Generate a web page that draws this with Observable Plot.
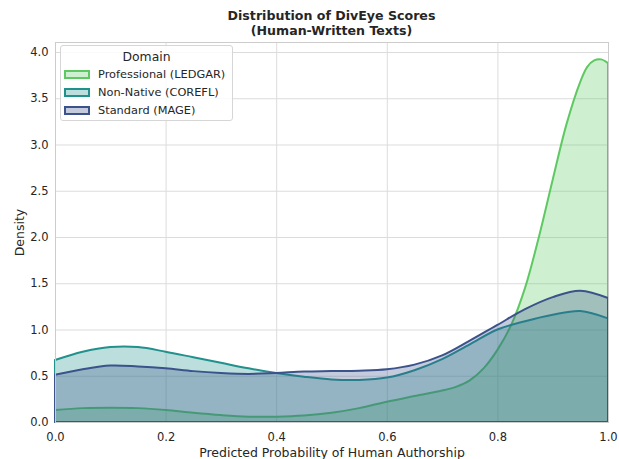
<!DOCTYPE html>
<html>
<head>
<meta charset="utf-8">
<script src="https://cdn.jsdelivr.net/npm/d3@7"></script>
<script src="https://cdn.jsdelivr.net/npm/@observablehq/plot@0.6"></script>
<style>
  body { margin: 0; background: #fff; font-family: "DejaVu Sans", sans-serif; }
  #wrap { position: relative; width: 619px; height: 459px; }
  #title { height: 40px; box-sizing: border-box; padding-top: 8px; text-align: center; font-weight: bold; font-size: 12.6px; line-height: 15px; color: #262626; padding-left: 44px; white-space: nowrap; }
  #legend { position: absolute; left: 60px; top: 45px; width: 173px; height: 76px; box-sizing: border-box; border: 1px solid #d6d6d6; border-radius: 3px; background: rgba(255,255,255,0.85); font-size: 11.35px; color: #262626; padding-left: 3px; }
  #legend .t { text-align: center; margin-top: 2px; height: 17px; line-height: 17px; font-size: 12.4px; padding-right: 3px; }
  #legend .row { display: flex; align-items: center; height: 18.2px; }
  #legend .sw { width: 22px; height: 5px; border: 2px solid; margin-right: 8px; }
  svg { display: block; }
</style>
</head>
<body>
<div id="wrap">
  <div id="title">Distribution of DivEye Scores<br>(Human-Written Texts)</div>
  <div id="chart"></div>
  <div id="legend"></div>
</div>
<script>
const domains = ["Professional (LEDGAR)", "Non-Native (COREFL)", "Standard (MAGE)"];
const colors = ["#5ec962", "#21918c", "#3b528b"];

const xProfessional = [0, 0.05, 0.1, 0.15, 0.2, 0.25, 0.3, 0.35, 0.4, 0.45, 0.5, 0.55, 0.6, 0.65, 0.7, 0.725, 0.75, 0.775, 0.8, 0.825, 0.85, 0.875, 0.9, 0.925, 0.95, 0.9625, 0.975, 0.9875, 1.0];
const yProfessional = [0.13, 0.15, 0.155, 0.15, 0.13, 0.10, 0.075, 0.058, 0.058, 0.07, 0.10, 0.15, 0.22, 0.28, 0.34, 0.38, 0.45, 0.58, 0.78, 1.05, 1.45, 2.0, 2.62, 3.22, 3.68, 3.84, 3.91, 3.92, 3.88];

const xNonNative = [0, 0.05, 0.1, 0.15, 0.2, 0.25, 0.3, 0.35, 0.4, 0.45, 0.5, 0.55, 0.6, 0.65, 0.7, 0.75, 0.8, 0.85, 0.9, 0.95, 1.0];
const yNonNative = [0.67, 0.76, 0.81, 0.81, 0.76, 0.70, 0.64, 0.58, 0.53, 0.49, 0.46, 0.455, 0.48, 0.56, 0.68, 0.84, 1.0, 1.09, 1.16, 1.2, 1.12];

const xStandard = [0, 0.05, 0.1, 0.15, 0.2, 0.25, 0.3, 0.35, 0.4, 0.45, 0.5, 0.55, 0.6, 0.65, 0.7, 0.75, 0.8, 0.85, 0.9, 0.95, 1.0];
const yStandard = [0.51, 0.57, 0.61, 0.60, 0.58, 0.55, 0.53, 0.52, 0.53, 0.545, 0.55, 0.555, 0.57, 0.62, 0.72, 0.88, 1.05, 1.22, 1.35, 1.42, 1.34];

const xTicks = [0, 0.2, 0.4, 0.6, 0.8, 1.0];
const yTicks = [0, 0.5, 1.0, 1.5, 2.0, 2.5, 3.0, 3.5, 4.0];

const series = [
  {name: domains[0], color: colors[0], data: xProfessional.map((x, i) => ({x, y: yProfessional[i]}))},
  {name: domains[1], color: colors[1], data: xNonNative.map((x, i) => ({x, y: yNonNative[i]}))},
  {name: domains[2], color: colors[2], data: xStandard.map((x, i) => ({x, y: yStandard[i]}))}
];

const chart = Plot.plot({
  width: 619,
  height: 419,
  marginLeft: 55,
  marginRight: 11,
  marginTop: 2,
  marginBottom: 37,
  style: {fontFamily: "'DejaVu Sans', sans-serif", fontSize: "11.5px", color: "#262626"},
  x: {domain: [0, 1]},
  y: {domain: [0, 4.108]},
  marks: [
    Plot.gridX(xTicks, {stroke: "#dcdcdc", strokeOpacity: 1}),
    Plot.gridY(yTicks, {stroke: "#dcdcdc", strokeOpacity: 1}),
    ...series.map(s => Plot.areaY(s.data, {
      x: "x", y: "y", curve: "catmull-rom",
      fill: s.color, fillOpacity: 0.3,
      stroke: s.color, strokeWidth: 2, strokeLinejoin: "round"
    })),
    Plot.frame({stroke: "#cccccc"}),
    Plot.axisX(xTicks, {tickSize: 0, tickPadding: 10, tickFormat: d3.format(".1f"), label: "Predicted Probability of Human Authorship", labelAnchor: "center", labelArrow: "none", labelOffset: 34}),
    Plot.axisY(yTicks, {tickSize: 0, tickPadding: 7, tickFormat: d3.format(".1f"), label: "Density", labelAnchor: "center", labelArrow: "none", labelOffset: 40})
  ]
});
document.getElementById("chart").appendChild(chart);
chart.querySelectorAll("[aria-label='x-axis label'] text, [aria-label='y-axis label'] text").forEach(t => t.style.fontSize = "12.5px");

const legend = document.getElementById("legend");
legend.innerHTML = `<div class="t">Domain</div>` + series.map(s => {
  const c = d3.color(s.color); c.opacity = 0.3;
  return `<div class="row"><div class="sw" style="border-color:${s.color};background:${c.formatRgb()}"></div>${s.name}</div>`;
}).join("");
</script>
</body>
</html>
